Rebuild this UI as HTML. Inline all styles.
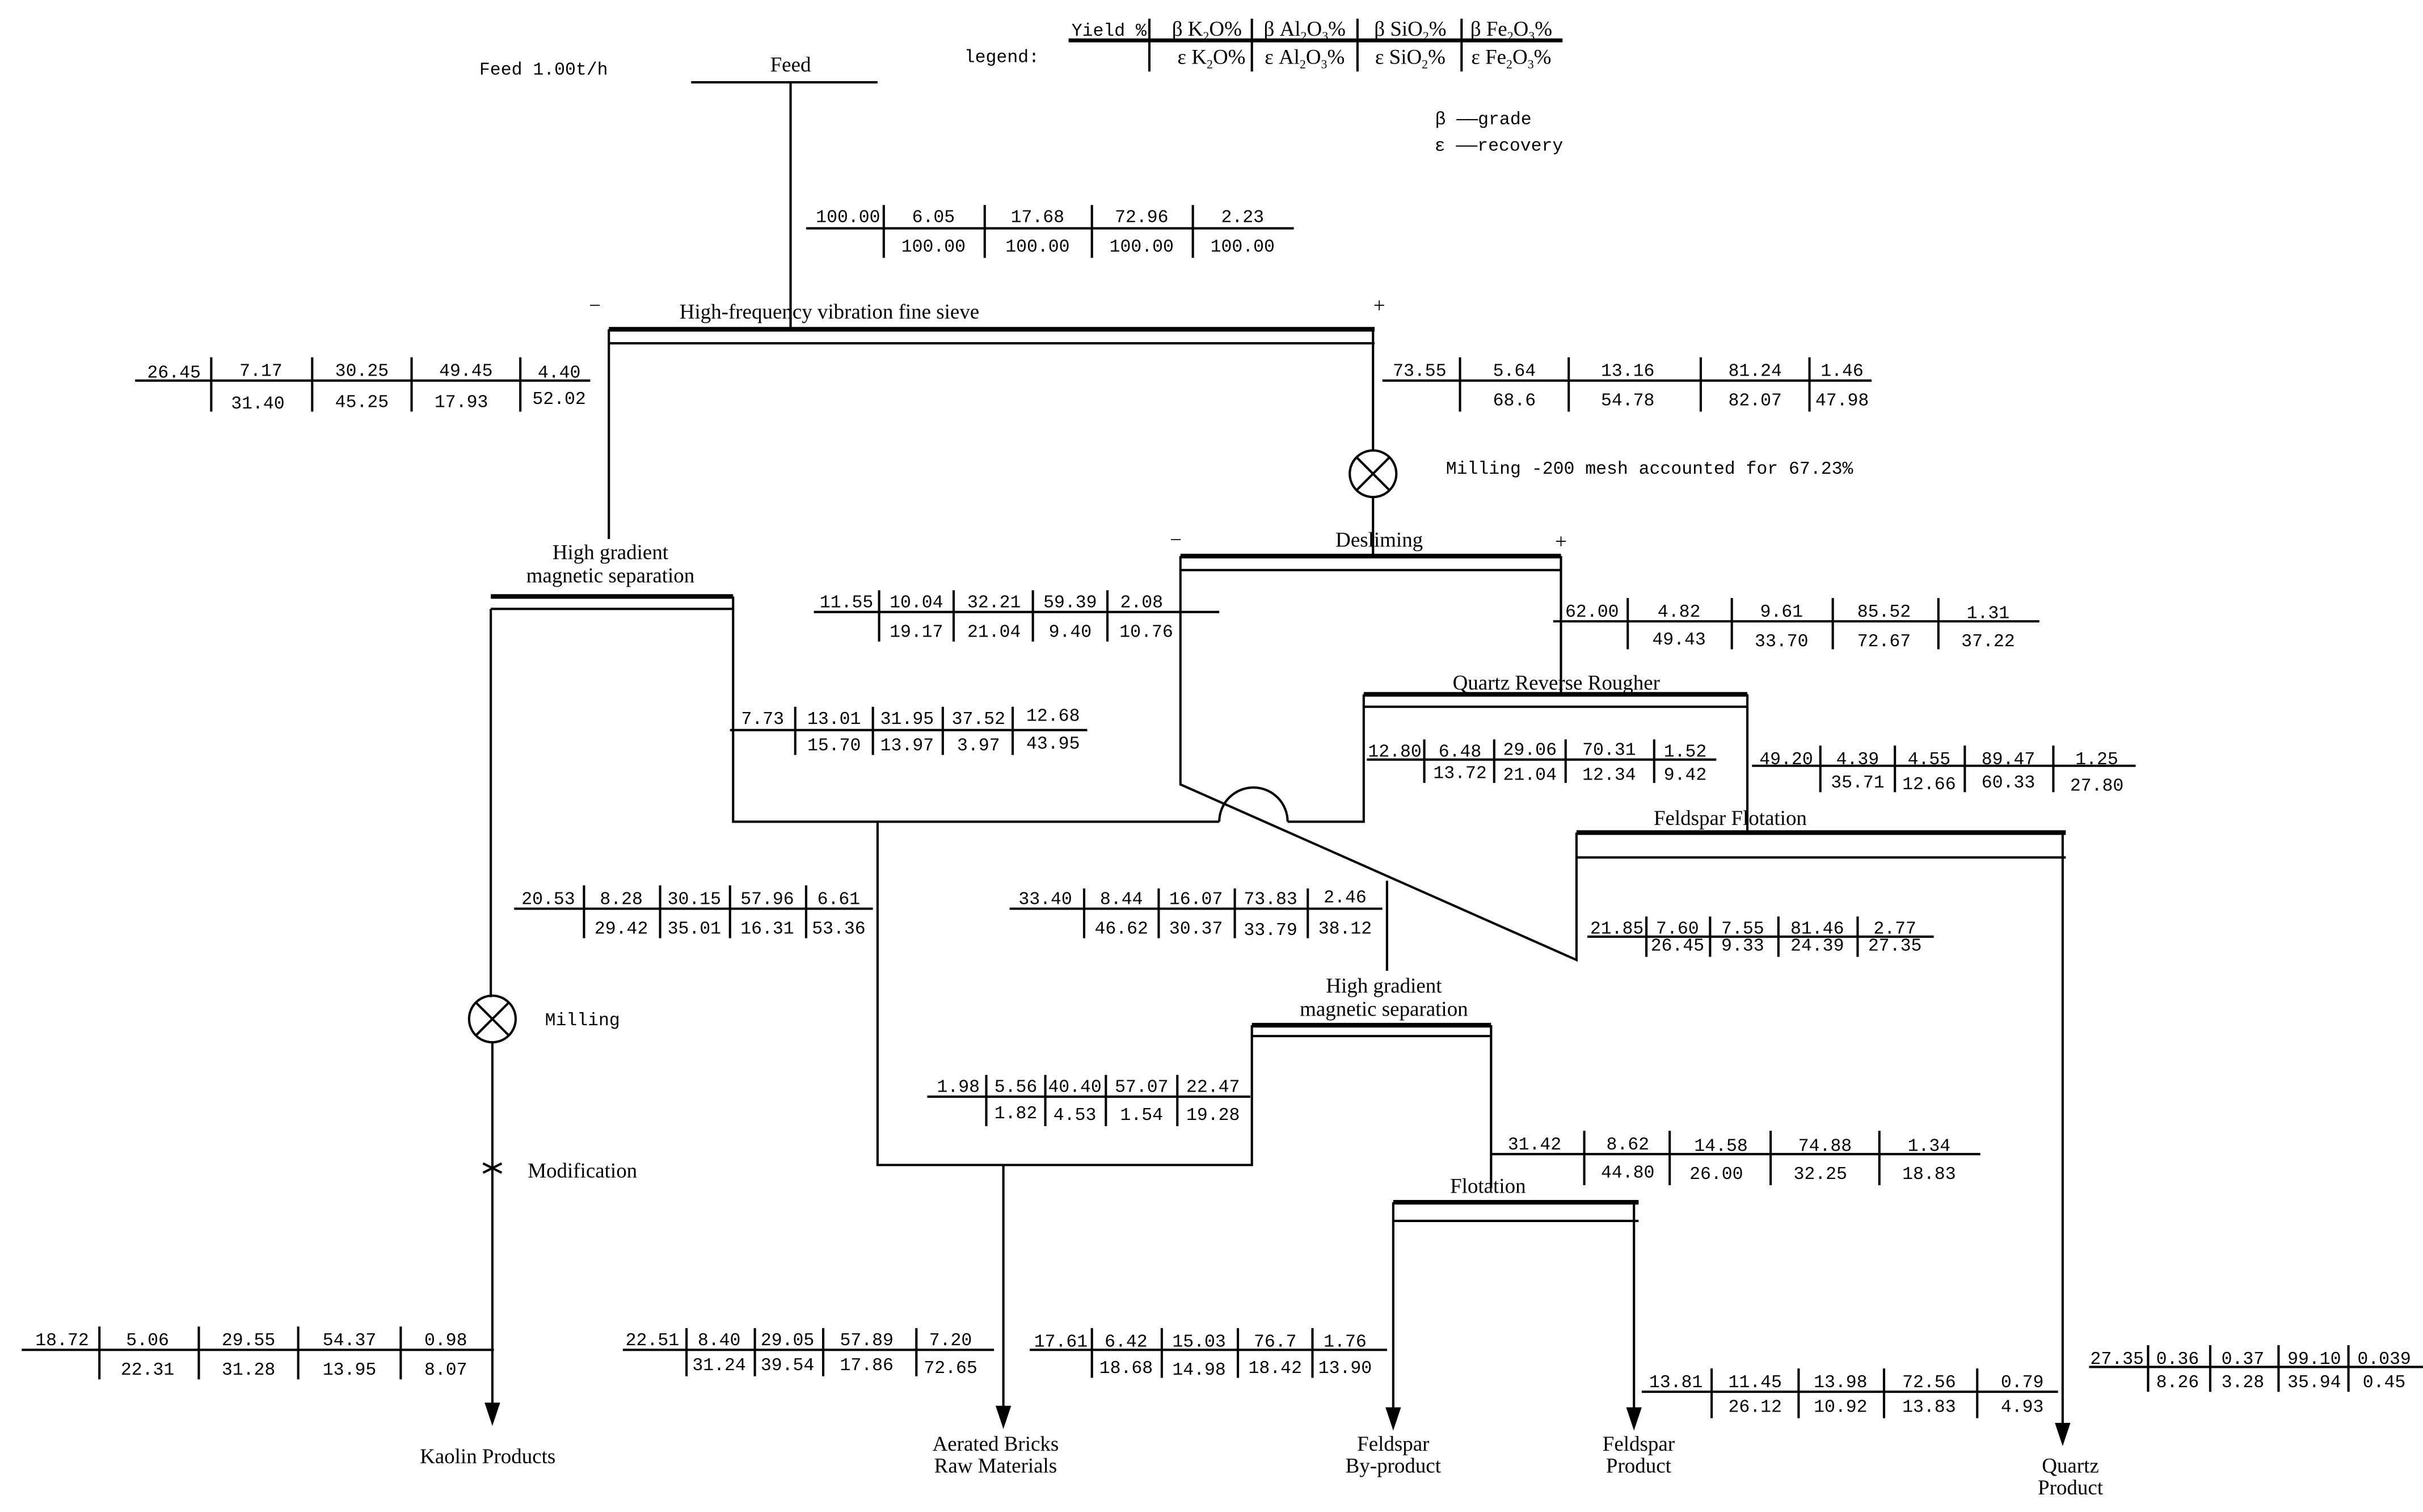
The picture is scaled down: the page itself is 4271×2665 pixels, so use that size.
<!DOCTYPE html>
<html><head><meta charset="utf-8"><style>
html,body{margin:0;padding:0;background:#fff}
svg{display:block}
.n{font-family:"Liberation Mono",monospace;font-size:11.5px;text-anchor:middle}
.l{font-family:"Liberation Serif",serif;font-size:13.5px;text-anchor:middle}
line,polyline,path{stroke:#000;fill:none}
</style></head><body>
<svg width="4271" height="2665" viewBox="0 0 1560 973.4" preserveAspectRatio="none" xmlns="http://www.w3.org/2000/svg">
<g stroke-width="1.5">
<line x1="688" y1="26" x2="1006" y2="26" stroke-width="2.5"/>
<line x1="740" y1="12" x2="740" y2="46"/><line x1="806" y1="12" x2="806" y2="46"/><line x1="874" y1="12" x2="874" y2="46"/><line x1="941" y1="12" x2="941" y2="46"/>
</g>
<text class="n" x="714" y="23">Yield %</text>
<text class="l" x="777" y="23">β K<tspan font-size="8" dy="3">2</tspan><tspan dy="-3">O%</tspan></text>
<text class="l" x="840" y="23">β Al<tspan font-size="8" dy="3">2</tspan><tspan dy="-3">O</tspan><tspan font-size="8" dy="3">3</tspan><tspan dy="-3">%</tspan></text>
<text class="l" x="908" y="23">β SiO<tspan font-size="8" dy="3">2</tspan><tspan dy="-3">%</tspan></text>
<text class="l" x="973" y="23">β Fe<tspan font-size="8" dy="3">2</tspan><tspan dy="-3">O</tspan><tspan font-size="8" dy="3">3</tspan><tspan dy="-3">%</tspan></text>
<text class="l" x="780" y="41">ε K<tspan font-size="8" dy="3">2</tspan><tspan dy="-3">O%</tspan></text>
<text class="l" x="840" y="41">ε Al<tspan font-size="8" dy="3">2</tspan><tspan dy="-3">O</tspan><tspan font-size="8" dy="3">3</tspan><tspan dy="-3">%</tspan></text>
<text class="l" x="908" y="41">ε SiO<tspan font-size="8" dy="3">2</tspan><tspan dy="-3">%</tspan></text>
<text class="l" x="973" y="41">ε Fe<tspan font-size="8" dy="3">2</tspan><tspan dy="-3">O</tspan><tspan font-size="8" dy="3">3</tspan><tspan dy="-3">%</tspan></text>
<text class="n" x="645" y="40">legend:</text>
<text class="n" x="955" y="80" font-size="13">β ——grade</text>
<text class="n" x="965" y="97" font-size="13">ε ——recovery</text>
<text class="n" x="350" y="48">Feed 1.00t/h</text>

<g stroke-width="1.5">
<line x1="445" y1="53" x2="565" y2="53"/>
<line x1="509" y1="53" x2="509" y2="212"/>
<line x1="392" y1="212" x2="885" y2="212" stroke-width="3"/>
<line x1="392" y1="221" x2="885" y2="221"/>
<line x1="392" y1="212" x2="392" y2="347"/>
<line x1="884" y1="212" x2="884" y2="290"/>
<circle cx="884" cy="305" r="15" fill="none" stroke="#000"/>
<line x1="873" y1="294" x2="895" y2="316"/><line x1="895" y1="294" x2="873" y2="316"/>
<line x1="884" y1="320" x2="884" y2="358"/>
<line x1="760" y1="358" x2="1005" y2="358" stroke-width="3"/>
<line x1="760" y1="367" x2="1005" y2="367"/>
<polyline points="760,358 760,505 1015,618 1015,536"/>
<line x1="1005" y1="358" x2="1005" y2="447"/>
<line x1="878" y1="447" x2="1125" y2="447" stroke-width="3"/>
<line x1="878" y1="455" x2="1125" y2="455"/>
<line x1="1125" y1="447" x2="1125" y2="536"/>
<polyline points="472,384 472,529 785,529"/>
<path d="M785,529 A22,22 0 0 1 829,529"/>
<polyline points="829,529 878,529 878,447"/>
<line x1="893" y1="567" x2="893" y2="625"/>
<line x1="1015" y1="536" x2="1330" y2="536" stroke-width="3"/>
<line x1="1015" y1="552" x2="1330" y2="552"/>
<line x1="1328" y1="536" x2="1328" y2="918"/>
<line x1="316" y1="384" x2="472" y2="384" stroke-width="3"/>
<line x1="316" y1="392" x2="472" y2="392"/>
<line x1="316" y1="392" x2="316" y2="642"/>
<circle cx="317" cy="656" r="15" fill="none" stroke="#000"/>
<line x1="306" y1="645" x2="328" y2="667"/><line x1="328" y1="645" x2="306" y2="667"/>
<line x1="317" y1="671" x2="317" y2="905"/>
<line x1="311" y1="749" x2="323" y2="755"/><line x1="323" y1="749" x2="311" y2="755"/>
<polyline points="565,529 565,750 806,750 806,660"/>
<line x1="646" y1="750" x2="646" y2="907"/>
<line x1="806" y1="660" x2="960" y2="660" stroke-width="3"/>
<line x1="806" y1="667" x2="960" y2="667"/>
<line x1="960" y1="660" x2="960" y2="765"/>
<line x1="897" y1="774" x2="1055" y2="774" stroke-width="3"/>
<line x1="897" y1="786" x2="1055" y2="786"/>
<line x1="897" y1="774" x2="897" y2="908"/>
<line x1="1052" y1="774" x2="1052" y2="908"/>
</g>
<g fill="#000">
<polygon points="312,903 322,903 317,918"/>
<polygon points="641,905 651,905 646,920"/>
<polygon points="892,906 902,906 897,921"/>
<polygon points="1047,906 1057,906 1052,921"/>
<polygon points="1323,916 1333,916 1328,931"/>
</g>

<text class="l" x="509" y="46">Feed</text>
<text class="l" x="534" y="205">High-frequency vibration fine sieve</text>
<text class="l" x="383" y="201">−</text><text class="l" x="888" y="201">+</text>
<text class="n" x="1062" y="305">Milling -200 mesh accounted for 67.23%</text>
<text class="l" x="393" y="360">High gradient</text>
<text class="l" x="393" y="375">magnetic separation</text>
<text class="l" x="888" y="352">Desliming</text>
<text class="l" x="757" y="352">−</text><text class="l" x="1005" y="353">+</text>
<text class="l" x="1002" y="444">Quartz  Reverse Rougher</text>
<text class="l" x="1114" y="531">Feldspar Flotation</text>
<text class="l" x="891" y="639">High gradient</text>
<text class="l" x="891" y="654">magnetic separation</text>
<text class="l" x="958" y="768">Flotation</text>
<text class="n" x="375" y="660">Milling</text>
<text class="l" x="375" y="758">Modification</text>
<text class="l" x="314" y="942">Kaolin Products</text>
<text class="l" x="641" y="934">Aerated Bricks</text>
<text class="l" x="641" y="948">Raw Materials</text>
<text class="l" x="897" y="934">Feldspar</text>
<text class="l" x="897" y="948">By-product</text>
<text class="l" x="1055" y="934">Feldspar</text>
<text class="l" x="1055" y="948">Product</text>
<text class="l" x="1333" y="948">Quartz</text>
<text class="l" x="1333" y="962">Product</text>

<g stroke-width="1.5">
<line x1="519" y1="147" x2="833" y2="147"/><line x1="569" y1="132" x2="569" y2="166"/><line x1="634" y1="132" x2="634" y2="166"/><line x1="703" y1="132" x2="703" y2="166"/><line x1="768" y1="132" x2="768" y2="166"/>
<line x1="87" y1="245" x2="380" y2="245"/><line x1="136" y1="230" x2="136" y2="265"/><line x1="201" y1="230" x2="201" y2="265"/><line x1="265" y1="230" x2="265" y2="265"/><line x1="335" y1="230" x2="335" y2="265"/>
<line x1="890" y1="245" x2="1205" y2="245"/><line x1="940" y1="230" x2="940" y2="265"/><line x1="1010" y1="230" x2="1010" y2="265"/><line x1="1095" y1="230" x2="1095" y2="265"/><line x1="1165" y1="230" x2="1165" y2="265"/>
<line x1="524" y1="394" x2="785" y2="394"/><line x1="566" y1="380" x2="566" y2="413"/><line x1="614" y1="380" x2="614" y2="413"/><line x1="665" y1="380" x2="665" y2="413"/><line x1="713" y1="380" x2="713" y2="413"/>
<line x1="1000" y1="400" x2="1313" y2="400"/><line x1="1048" y1="385" x2="1048" y2="418"/><line x1="1115" y1="385" x2="1115" y2="418"/><line x1="1180" y1="385" x2="1180" y2="418"/><line x1="1248" y1="385" x2="1248" y2="418"/>
<line x1="470" y1="470" x2="700" y2="470"/><line x1="512" y1="455" x2="512" y2="486"/><line x1="562" y1="455" x2="562" y2="486"/><line x1="607" y1="455" x2="607" y2="486"/><line x1="652" y1="455" x2="652" y2="486"/>
<line x1="880" y1="489" x2="1105" y2="489"/><line x1="917" y1="476" x2="917" y2="504"/><line x1="962" y1="476" x2="962" y2="504"/><line x1="1008" y1="476" x2="1008" y2="504"/><line x1="1065" y1="476" x2="1065" y2="504"/>
<line x1="1128" y1="493" x2="1375" y2="493"/><line x1="1172" y1="480" x2="1172" y2="510"/><line x1="1220" y1="480" x2="1220" y2="510"/><line x1="1265" y1="480" x2="1265" y2="510"/><line x1="1322" y1="480" x2="1322" y2="510"/>
<line x1="331" y1="585" x2="562" y2="585"/><line x1="376" y1="570" x2="376" y2="604"/><line x1="425" y1="570" x2="425" y2="604"/><line x1="470" y1="570" x2="470" y2="604"/><line x1="519" y1="570" x2="519" y2="604"/>
<line x1="650" y1="585" x2="890" y2="585"/><line x1="698" y1="572" x2="698" y2="604"/><line x1="746" y1="572" x2="746" y2="604"/><line x1="795" y1="572" x2="795" y2="604"/><line x1="842" y1="572" x2="842" y2="604"/>
<line x1="1022" y1="603" x2="1245" y2="603"/><line x1="1060" y1="590" x2="1060" y2="616"/><line x1="1101" y1="590" x2="1101" y2="616"/><line x1="1145" y1="590" x2="1145" y2="616"/><line x1="1196" y1="590" x2="1196" y2="616"/>
<line x1="597" y1="706" x2="805" y2="706"/><line x1="635" y1="692" x2="635" y2="725"/><line x1="673" y1="692" x2="673" y2="725"/><line x1="712" y1="692" x2="712" y2="725"/><line x1="758" y1="692" x2="758" y2="725"/>
<line x1="960" y1="743" x2="1275" y2="743"/><line x1="1020" y1="728" x2="1020" y2="763"/><line x1="1075" y1="728" x2="1075" y2="763"/><line x1="1140" y1="728" x2="1140" y2="763"/><line x1="1210" y1="728" x2="1210" y2="763"/>
<line x1="14" y1="869" x2="318" y2="869"/><line x1="64" y1="854" x2="64" y2="888"/><line x1="128" y1="854" x2="128" y2="888"/><line x1="192" y1="854" x2="192" y2="888"/><line x1="258" y1="854" x2="258" y2="888"/>
<line x1="401" y1="869" x2="640" y2="869"/><line x1="442" y1="855" x2="442" y2="886"/><line x1="486" y1="855" x2="486" y2="886"/><line x1="530" y1="855" x2="530" y2="886"/><line x1="590" y1="855" x2="590" y2="886"/>
<line x1="663" y1="869" x2="893" y2="869"/><line x1="703" y1="855" x2="703" y2="887"/><line x1="748" y1="855" x2="748" y2="887"/><line x1="797" y1="855" x2="797" y2="887"/><line x1="845" y1="855" x2="845" y2="887"/>
<line x1="1057" y1="896" x2="1325" y2="896"/><line x1="1102" y1="881" x2="1102" y2="913"/><line x1="1158" y1="881" x2="1158" y2="913"/><line x1="1213" y1="881" x2="1213" y2="913"/><line x1="1273" y1="881" x2="1273" y2="913"/>
<line x1="1345" y1="880" x2="1560" y2="880"/><line x1="1383" y1="866" x2="1383" y2="896"/><line x1="1423" y1="866" x2="1423" y2="896"/><line x1="1467" y1="866" x2="1467" y2="896"/><line x1="1512" y1="866" x2="1512" y2="896"/>
</g>
<g class="n">
<text class="n" x="546" y="143">100.00</text><text class="n" x="601" y="143">6.05</text><text class="n" x="668" y="143">17.68</text><text class="n" x="735" y="143">72.96</text><text class="n" x="800" y="143">2.23</text>
<text class="n" x="601" y="162">100.00</text><text class="n" x="668" y="162">100.00</text><text class="n" x="735" y="162">100.00</text><text class="n" x="800" y="162">100.00</text>

<text class="n" x="112" y="243">26.45</text><text class="n" x="168" y="242">7.17</text><text class="n" x="233" y="242">30.25</text><text class="n" x="300" y="242">49.45</text><text class="n" x="360" y="243">4.40</text>
<text class="n" x="166" y="263">31.40</text><text class="n" x="233" y="262">45.25</text><text class="n" x="297" y="262">17.93</text><text class="n" x="360" y="260">52.02</text>

<text class="n" x="914" y="242">73.55</text><text class="n" x="975" y="242">5.64</text><text class="n" x="1048" y="242">13.16</text><text class="n" x="1130" y="242">81.24</text><text class="n" x="1186" y="242">1.46</text>
<text class="n" x="975" y="261">68.6</text><text class="n" x="1048" y="261">54.78</text><text class="n" x="1130" y="261">82.07</text><text class="n" x="1186" y="261">47.98</text>

<text class="n" x="545" y="391">11.55</text><text class="n" x="590" y="391">10.04</text><text class="n" x="640" y="391">32.21</text><text class="n" x="689" y="391">59.39</text><text class="n" x="735" y="391">2.08</text>
<text class="n" x="590" y="410">19.17</text><text class="n" x="640" y="410">21.04</text><text class="n" x="689" y="410">9.40</text><text class="n" x="738" y="410">10.76</text>

<text class="n" x="1025" y="397">62.00</text><text class="n" x="1081" y="397">4.82</text><text class="n" x="1147" y="397">9.61</text><text class="n" x="1213" y="397">85.52</text><text class="n" x="1280" y="398">1.31</text>
<text class="n" x="1081" y="415">49.43</text><text class="n" x="1147" y="416">33.70</text><text class="n" x="1213" y="416">72.67</text><text class="n" x="1280" y="416">37.22</text>

<text class="n" x="491" y="466">7.73</text><text class="n" x="537" y="466">13.01</text><text class="n" x="584" y="466">31.95</text><text class="n" x="630" y="466">37.52</text><text class="n" x="678" y="464">12.68</text>
<text class="n" x="537" y="483">15.70</text><text class="n" x="584" y="483">13.97</text><text class="n" x="630" y="483">3.97</text><text class="n" x="678" y="482">43.95</text>

<text class="n" x="898" y="487">12.80</text><text class="n" x="940" y="487">6.48</text><text class="n" x="985" y="486">29.06</text><text class="n" x="1036" y="486">70.31</text><text class="n" x="1085" y="487">1.52</text>
<text class="n" x="940" y="501">13.72</text><text class="n" x="985" y="502">21.04</text><text class="n" x="1036" y="502">12.34</text><text class="n" x="1085" y="502">9.42</text>

<text class="n" x="1150" y="492">49.20</text><text class="n" x="1196" y="492">4.39</text><text class="n" x="1242" y="492">4.55</text><text class="n" x="1293" y="492">89.47</text><text class="n" x="1350" y="492">1.25</text>
<text class="n" x="1196" y="507">35.71</text><text class="n" x="1242" y="508">12.66</text><text class="n" x="1293" y="507">60.33</text><text class="n" x="1350" y="509">27.80</text>

<text class="n" x="353" y="582">20.53</text><text class="n" x="400" y="582">8.28</text><text class="n" x="447" y="582">30.15</text><text class="n" x="494" y="582">57.96</text><text class="n" x="540" y="582">6.61</text>
<text class="n" x="400" y="601">29.42</text><text class="n" x="447" y="601">35.01</text><text class="n" x="494" y="601">16.31</text><text class="n" x="540" y="601">53.36</text>

<text class="n" x="673" y="582">33.40</text><text class="n" x="722" y="582">8.44</text><text class="n" x="770" y="582">16.07</text><text class="n" x="818" y="582">73.83</text><text class="n" x="866" y="581">2.46</text>
<text class="n" x="722" y="601">46.62</text><text class="n" x="770" y="601">30.37</text><text class="n" x="818" y="602">33.79</text><text class="n" x="866" y="601">38.12</text>

<text class="n" x="1041" y="601">21.85</text><text class="n" x="1080" y="601">7.60</text><text class="n" x="1122" y="601">7.55</text><text class="n" x="1170" y="601">81.46</text><text class="n" x="1220" y="601">2.77</text>
<text class="n" x="1080" y="612">26.45</text><text class="n" x="1122" y="612">9.33</text><text class="n" x="1170" y="612">24.39</text><text class="n" x="1220" y="612">27.35</text>

<text class="n" x="617" y="703">1.98</text><text class="n" x="654" y="703">5.56</text><text class="n" x="692" y="703">40.40</text><text class="n" x="735" y="703">57.07</text><text class="n" x="781" y="703">22.47</text>
<text class="n" x="654" y="720">1.82</text><text class="n" x="692" y="721">4.53</text><text class="n" x="735" y="721">1.54</text><text class="n" x="781" y="721">19.28</text>

<text class="n" x="988" y="740">31.42</text><text class="n" x="1048" y="740">8.62</text><text class="n" x="1108" y="741">14.58</text><text class="n" x="1175" y="741">74.88</text><text class="n" x="1242" y="741">1.34</text>
<text class="n" x="1048" y="758">44.80</text><text class="n" x="1105" y="759">26.00</text><text class="n" x="1172" y="759">32.25</text><text class="n" x="1242" y="759">18.83</text>

<text class="n" x="40" y="866">18.72</text><text class="n" x="95" y="866">5.06</text><text class="n" x="160" y="866">29.55</text><text class="n" x="225" y="866">54.37</text><text class="n" x="287" y="866">0.98</text>
<text class="n" x="95" y="885">22.31</text><text class="n" x="160" y="885">31.28</text><text class="n" x="225" y="885">13.95</text><text class="n" x="287" y="885">8.07</text>

<text class="n" x="420" y="866">22.51</text><text class="n" x="463" y="866">8.40</text><text class="n" x="507" y="866">29.05</text><text class="n" x="558" y="866">57.89</text><text class="n" x="612" y="866">7.20</text>
<text class="n" x="463" y="882">31.24</text><text class="n" x="507" y="882">39.54</text><text class="n" x="558" y="882">17.86</text><text class="n" x="612" y="884">72.65</text>

<text class="n" x="683" y="867">17.61</text><text class="n" x="725" y="867">6.42</text><text class="n" x="772" y="867">15.03</text><text class="n" x="821" y="867">76.7</text><text class="n" x="866" y="867">1.76</text>
<text class="n" x="725" y="884">18.68</text><text class="n" x="772" y="885">14.98</text><text class="n" x="821" y="884">18.42</text><text class="n" x="866" y="884">13.90</text>

<text class="n" x="1079" y="893">13.81</text><text class="n" x="1130" y="893">11.45</text><text class="n" x="1185" y="893">13.98</text><text class="n" x="1242" y="893">72.56</text><text class="n" x="1302" y="893">0.79</text>
<text class="n" x="1130" y="909">26.12</text><text class="n" x="1185" y="909">10.92</text><text class="n" x="1242" y="909">13.83</text><text class="n" x="1302" y="909">4.93</text>

<text class="n" x="1363" y="878">27.35</text><text class="n" x="1402" y="878">0.36</text><text class="n" x="1444" y="878">0.37</text><text class="n" x="1490" y="878">99.10</text><text class="n" x="1535" y="878">0.039</text>
<text class="n" x="1402" y="893">8.26</text><text class="n" x="1444" y="893">3.28</text><text class="n" x="1490" y="893">35.94</text><text class="n" x="1535" y="893">0.45</text>
</g>
</svg>
</body></html>
